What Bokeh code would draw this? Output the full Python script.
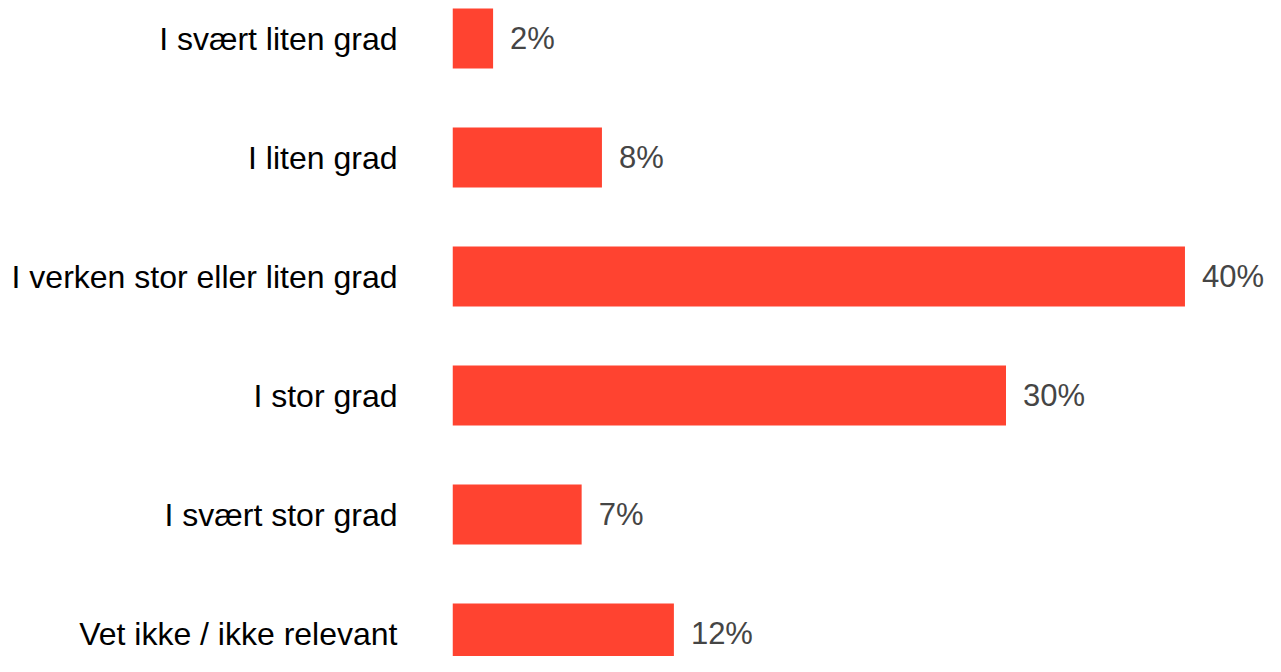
from bokeh.plotting import figure
from bokeh.models import Range1d, FixedTicker, ColumnDataSource, LabelSet
from bokeh.core.properties import value
from bokeh.embed import file_html
from bokeh.resources import INLINE

categories = ["I svært liten grad", "I liten grad", "I verken stor eller liten grad",
              "I stor grad", "I svært stor grad", "Vet ikke / ikke relevant"]
values = [2.2, 8.1, 39.7, 30.0, 7.0, 12.0]
value_labels = ["2%", "8%", "40%", "30%", "7%", "12%"]

pos = list(range(len(categories)))
src = ColumnDataSource(dict(y=pos, v=values, lab=value_labels))

W, H = 1265, 656
left = 452
step = 119.0
top = 38.0
p = figure(width=W, height=H, output_backend="svg", toolbar_location=None,
           x_range=Range1d(0, (W - left) / 18.45), y_range=Range1d((H - top) / step, -top / step),
           min_border_left=left, min_border_right=0, min_border_top=0, min_border_bottom=0)
p.hbar(y="y", right="v", left=0, height=60.0 / step, source=src, color="#FF4330", line_color=None)

labels = LabelSet(x="v", y="y", text="lab", source=src, x_offset=17,
                  text_baseline="middle", text_align="left",
                  text_font=value("Liberation Sans"), text_font_size="31px", text_color="#454545")
p.add_layout(labels)

p.xaxis.visible = False
p.yaxis.ticker = FixedTicker(ticks=pos)
p.yaxis.major_label_overrides = {i: c for i, c in enumerate(categories)}
p.yaxis.major_label_text_font = "Liberation Sans"
p.yaxis.major_label_text_font_size = "32px"
p.yaxis.major_label_text_color = "#000000"
p.yaxis.major_label_standoff = 49
p.yaxis.major_tick_line_color = None
p.yaxis.minor_tick_line_color = None
p.yaxis.axis_line_color = None
p.xgrid.visible = False
p.ygrid.visible = False
p.outline_line_color = None

open("out.html", "w").write(file_html(p, INLINE))
